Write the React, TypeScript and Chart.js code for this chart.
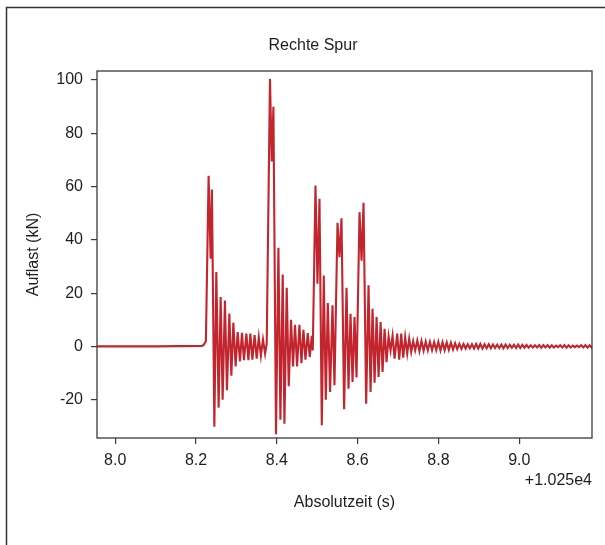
import { useEffect, useRef } from 'react';
import { Chart, registerables } from 'chart.js';

Chart.register(...registerables);

const TITLE = 'Rechte Spur';
const X_LABEL = 'Absolutzeit (s)';
const Y_LABEL = 'Auflast (kN)';
const OFFSET_TEXT = '+1.025e4';

const X_TICKS = [8.0, 8.2, 8.4, 8.6, 8.8, 9.0];
const Y_TICKS = [-20, 0, 20, 40, 60, 80, 100];
const X_MIN = 7.955;
const X_MAX = 9.18;
const Y_MIN = -34.4;
const Y_MAX = 103.4;

// [time (s, minus 1.025e4), load (kN)]
const baseline: number[][] = [
  [7.955, 0.0], [8.1, 0.0], [8.2150, 0.2], [8.2196, 0.6], [8.2245, 2.0],
];
const burst1: number[][] = [
  [8.2312, 64.1], [8.2362, 32.9], [8.2394, 58.9], [8.2454, -30.2], [8.2503, 27.9],
  [8.2560, -23.0], [8.2610, 18.5], [8.2659, -20.0], [8.2716, 17.2], [8.2766, -16.5],
  [8.2825, 12.3], [8.2875, -11.0], [8.2924, 8.9], [8.2981, -7.5], [8.3031, 5.4],
  [8.3088, -5.6], [8.3138, 5.1], [8.3187, -5.2], [8.3247, 4.8], [8.3296, -5.2],
  [8.3346, 4.8], [8.3395, -5.0], [8.3450, 4.2], [8.3502, -4.6], [8.3554, 3.4],
  [8.3606, -3.5], [8.3658, 2.6], [8.3710, -2.8], [8.3750, 1.0],
];
const burst2: number[][] = [
  [8.3831, 100.4], [8.3874, 69.4], [8.3916, 90.0], [8.3980, -33.0], [8.4040, 37.0],
  [8.4089, -27.5], [8.4146, 27.0], [8.4188, -29.0], [8.4245, 22.0], [8.4295, -15.0],
  [8.4352, 10.0], [8.4401, -7.5], [8.4451, 8.1], [8.4501, -7.5], [8.4560, 8.1],
  [8.4610, -6.3], [8.4659, 6.2], [8.4709, -5.0], [8.4766, 5.0], [8.4815, -4.0],
  [8.4865, 4.0], [8.4890, -1.5],
];
const burst3: number[][] = [
  [8.4957, 60.4], [8.5006, 23.5], [8.5056, 55.4], [8.5113, -29.6], [8.5162, 26.6],
  [8.5212, -20.0], [8.5262, 16.3], [8.5318, -17.1], [8.5378, 15.4], [8.5427, -14.6],
];
const burst4: number[][] = [
  [8.5502, 46.4], [8.5551, 33.5], [8.5601, 48.1], [8.5665, -23.6], [8.5725, 22.0],
  [8.5774, -15.9], [8.5824, 12.2], [8.5874, -13.4], [8.5923, 11.0], [8.5973, -11.7],
];
const burst5: number[][] = [
  [8.6047, 50.4], [8.6097, 32.2], [8.6146, 53.9], [8.6211, -21.5], [8.6270, 22.9],
  [8.6320, -17.1], [8.6369, 14.1], [8.6419, -13.6], [8.6469, 11.0], [8.6518, -11.5],
  [8.6568, 9.1], [8.6617, -9.6], [8.6667, 6.6], [8.6716, -5.9], [8.6766, 3.7],
  [8.6815, -1.5], [8.6865, 4.0], [8.6914, -4.6], [8.6979, 4.8], [8.7029, -5.0],
  [8.7078, 4.8], [8.7128, -4.2], [8.7177, 3.5], [8.7227, -2.7], [8.7276, 2.9],
  [8.7326, -2.1], [8.7375, 2.0], [8.7425, -1.5],
];
const tail: number[][] = [
  [8.7477, 2.2], [8.7529, -1.8], [8.7581, 2.0], [8.7633, -1.6], [8.7685, 1.8],
  [8.7737, -1.5], [8.7789, 1.7], [8.7841, -1.4], [8.7893, 1.6], [8.7945, -1.4],
  [8.7997, 1.7], [8.8049, -1.5], [8.8101, 1.6], [8.8153, -1.4], [8.8205, 1.5],
  [8.8257, -1.3], [8.8309, 1.4], [8.8361, -1.2], [8.8413, 1.2], [8.8465, -1.0],
  [8.8517, 1.0], [8.8569, -0.9], [8.8621, 0.9], [8.8673, -0.8], [8.8725, 0.8],
  [8.8777, -0.7], [8.8829, 0.8], [8.8881, -0.8], [8.8933, 0.9], [8.8985, -0.8],
  [8.9037, 0.9], [8.9089, -0.8], [8.9141, 0.8], [8.9193, -0.7], [8.9245, 0.8],
  [8.9297, -0.7], [8.9349, 0.7], [8.9401, -0.6], [8.9453, 0.6], [8.9505, -0.6],
  [8.9557, 0.7], [8.9609, -0.7], [8.9661, 0.7], [8.9713, -0.6], [8.9765, 0.6],
  [8.9817, -0.5], [8.9869, 0.6], [8.9921, -0.6], [8.9973, 0.7], [9.0025, -0.6],
  [9.0077, 0.6], [9.0129, -0.5], [9.0181, 0.5], [9.0233, -0.5], [9.0285, 0.4],
  [9.0337, -0.4], [9.0389, 0.4], [9.0441, -0.4], [9.0493, 0.5], [9.0545, -0.5],
  [9.0597, 0.5], [9.0649, -0.4], [9.0701, 0.5], [9.0753, -0.5], [9.0805, 0.4],
  [9.0857, -0.4], [9.0909, 0.3], [9.0961, -0.3], [9.1013, 0.4], [9.1065, -0.4],
  [9.1117, 0.5], [9.1169, -0.5], [9.1221, 0.4], [9.1273, -0.4], [9.1325, 0.3],
  [9.1377, -0.3], [9.1429, 0.3], [9.1481, -0.3], [9.1533, 0.4], [9.1585, -0.4],
  [9.1637, 0.5], [9.1689, -0.5], [9.1741, 0.4], [9.1793, -0.4], [9.1845, 0.3],
];

const FONT = '"Liberation Sans", Arial, Helvetica, sans-serif';
const TEXT_COLOR = '#1e1e1e';
const AXIS_COLOR = '#3a3a3a';
const LINE_COLOR = '#c2252d';

const framePlugin = {
  id: 'frameAndLabels',
  afterDraw(chart: any) {
    const { ctx, chartArea: a } = chart;
    ctx.save();
    // outer figure border (left and top visible)
    ctx.strokeStyle = '#333';
    ctx.lineWidth = 1.5;
    ctx.beginPath();
    ctx.moveTo(6.5, 545);
    ctx.lineTo(6.5, 7.5);
    ctx.lineTo(605, 7.5);
    ctx.stroke();
    // plot frame
    ctx.strokeStyle = AXIS_COLOR;
    ctx.lineWidth = 1.3;
    ctx.strokeRect(a.left, a.top, a.right - a.left, a.bottom - a.top);
    // texts
    ctx.fillStyle = TEXT_COLOR;
    ctx.font = `16px ${FONT}`;
    ctx.textBaseline = 'middle';
    ctx.textAlign = 'center';
    ctx.fillText(TITLE, 313, 46);
    ctx.fillText(X_LABEL, (a.left + a.right) / 2, 503);
    ctx.textAlign = 'right';
    ctx.fillText(OFFSET_TEXT, a.right, 481);
    ctx.translate(34, (a.top + a.bottom) / 2);
    ctx.rotate(-Math.PI / 2);
    ctx.textAlign = 'center';
    ctx.fillText(Y_LABEL, 0, 0);
    ctx.restore();
  },
};

export default function App() {
  const ref = useRef<HTMLCanvasElement | null>(null);

  useEffect(() => {
    if (!ref.current) return;
    const points = [...baseline, ...burst1, ...burst2, ...burst3, ...burst4, ...burst5, ...tail].map(
      ([x, y]) => ({ x, y })
    );
    const chart = new Chart(ref.current, {
      type: 'line',
      data: {
        datasets: [
          {
            label: TITLE,
            data: points,
            borderColor: LINE_COLOR,
            borderWidth: 2.1,
            pointRadius: 0,
            tension: 0,
            fill: false,
          },
        ],
      },
      options: {
        animation: false,
        responsive: false,
        maintainAspectRatio: false,
        layout: { padding: { top: 71, right: 13, bottom: 0, left: 0 } },
        plugins: {
          legend: { display: false },
          title: { display: false },
          tooltip: { enabled: false },
        },
        scales: {
          x: {
            type: 'linear',
            min: X_MIN,
            max: X_MAX,
            afterFit: (scale: any) => {
              scale.height = 107;
            },
            afterBuildTicks: (scale: any) => {
              scale.ticks = X_TICKS.map((value) => ({ value }));
            },
            grid: {
              display: true,
              drawOnChartArea: false,
              drawTicks: true,
              tickLength: 6,
              color: AXIS_COLOR,
              lineWidth: 1.2,
            },
            border: { display: false },
            ticks: {
              autoSkip: false,
              maxRotation: 0,
              padding: 7,
              color: TEXT_COLOR,
              font: { family: FONT, size: 16 },
              callback: (v: any) => Number(v).toFixed(1),
            },
          },
          y: {
            type: 'linear',
            min: Y_MIN,
            max: Y_MAX,
            afterFit: (scale: any) => {
              scale.width = 97;
            },
            afterBuildTicks: (scale: any) => {
              scale.ticks = Y_TICKS.map((value) => ({ value }));
            },
            grid: {
              display: true,
              drawOnChartArea: false,
              drawTicks: true,
              tickLength: 6,
              color: AXIS_COLOR,
              lineWidth: 1.2,
            },
            border: { display: false },
            ticks: {
              padding: 8,
              color: TEXT_COLOR,
              font: { family: FONT, size: 16 },
              callback: (v: any) => String(v),
            },
          },
        },
      },
      plugins: [framePlugin],
    });
    return () => chart.destroy();
  }, []);

  return (
    <div style={{ position: 'absolute', left: 0, top: 0, width: 605, height: 545, background: '#fff' }}>
      <canvas ref={ref} width={605} height={545} style={{ display: 'block' }} />
    </div>
  );
}
